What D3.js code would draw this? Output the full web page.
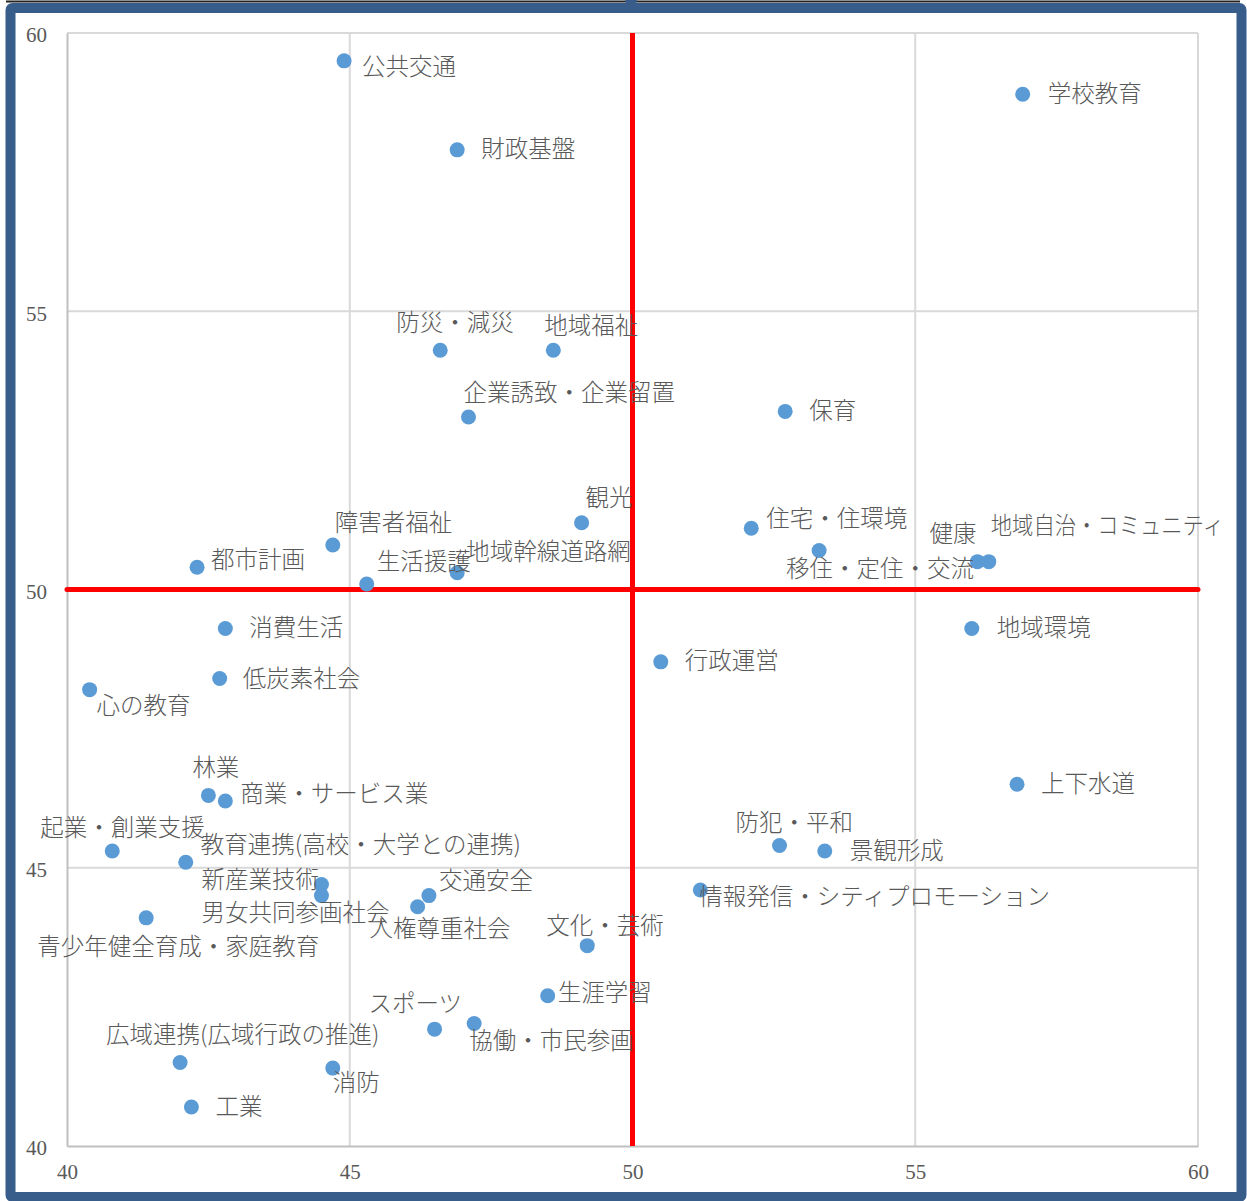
<!DOCTYPE html>
<html>
<head>
<meta charset="utf-8">
<script src="https://cdn.jsdelivr.net/npm/d3@7"></script>
<style>
  body { margin:0; background:#fff; }
  svg text { fill:#595959; }
</style>
</head>
<body>
<div id="chart"></div>
<script>
// item names and their scores (x, y)
const names = ["公共交通","学校教育","財政基盤","防災・減災","地域福祉","企業誘致・企業留置","保育","観光",
  "住宅・住環境","移住・定住・交流","健康","地域自治・コミュニティ","障害者福祉","都市計画","生活援護","地域幹線道路網",
  "消費生活","地域環境","行政運営","低炭素社会","心の教育","上下水道","林業","商業・サービス業",
  "防犯・平和","景観形成","起業・創業支援","教育連携(高校・大学との連携)","新産業技術","男女共同参画社会","交通安全","人権尊重社会",
  "情報発信・シティプロモーション","青少年健全育成・家庭教育","文化・芸術","生涯学習","スポーツ","協働・市民参画","広域連携(広域行政の推進)","消防","工業"];
const xValues = [44.9,56.9,46.9,46.6,48.6,47.1,52.7,49.1,
  52.1,53.3,56.1,56.3,44.7,42.3,45.3,46.9,
  42.8,56.0,50.5,42.7,40.4,56.8,42.5,42.8,
  52.6,53.4,40.8,42.1,44.5,44.5,46.4,46.2,
  51.2,41.4,49.2,48.5,46.5,47.2,42.0,44.7,42.2];
const yValues = [59.5,58.9,57.9,54.3,54.3,53.1,53.2,51.2,
  51.1,50.7,50.5,50.5,50.8,50.4,50.1,50.3,
  49.3,49.3,48.7,48.4,48.2,46.5,46.3,46.2,
  45.4,45.3,45.3,45.1,44.7,44.5,44.5,44.3,
  44.6,44.1,43.6,42.7,42.1,42.2,41.5,41.4,40.7];
const ticks = [40,45,50,55,60];
const midValue = 50;

// label offset from point: [dx to text start, dy to text middle] (px)
const labelOffsets = [[18,6],[25,0],[24,-1],[-44,-27],[-9,-24],[-5,-24],[24,0],[4,-25],
  [15,-9],[-33,18],[-48,-28],[2,-36],[2,-22],[14,-7],[10,-22],[9,-21],
  [24,0],[25,0],[24,-1],[23,0],[7,16],[24,0],[-16,-27],[15,-7],
  [-44,-22],[25,0],[-72,-23],[15,-17],[-120,-4],[-120,17],[10,-15],[-48,22],
  [-1,7],[-109,29],[-41,-20],[10,-3],[-66,-25],[-5,17],[-74,-28],[0,15],[24,0]];

const W = 1247, H = 1201;
const svg = d3.select("#chart").append("svg")
  .attr("width", W).attr("height", H);

const x = d3.scaleLinear().domain([40,60]).range([67,1198]);
const y = d3.scaleLinear().domain([40,60]).range([1146,33]);

// gridlines
svg.append("g").selectAll("line.v").data(ticks.slice(1)).enter().append("line")
  .attr("x1",d=>x(d)).attr("x2",d=>x(d)).attr("y1",y(60)).attr("y2",y(40))
  .attr("stroke","#d9d9d9").attr("stroke-width",2);
svg.append("g").selectAll("line.h").data(ticks.slice(1)).enter().append("line")
  .attr("x1",x(40)).attr("x2",x(60)).attr("y1",d=>y(d)).attr("y2",d=>y(d))
  .attr("stroke","#d9d9d9").attr("stroke-width",2);

// axes
const xAxis = svg.append("g").attr("transform",`translate(0,${y(40)})`)
  .call(d3.axisBottom(x).tickValues(ticks).tickSize(0).tickPadding(18));
const yAxis = svg.append("g").attr("transform",`translate(${x(40)},0)`)
  .call(d3.axisLeft(y).tickValues(ticks).tickSize(0).tickPadding(20));
[xAxis,yAxis].forEach(a => {
  a.select(".domain").attr("stroke","#bfbfbf").attr("stroke-width",2);
  a.selectAll("text").attr("font-family","'Liberation Serif','DejaVu Serif',serif")
    .attr("font-size",21).style("fill","#595959");
});
yAxis.selectAll("text").attr("dy","0.42em");

// quadrant lines
svg.append("line").attr("x1",x(midValue)).attr("x2",x(midValue)).attr("y1",y(60)).attr("y2",y(40))
  .attr("stroke","#ff0000").attr("stroke-width",5);
svg.append("line").attr("x1",x(40)).attr("x2",x(60)).attr("y1",y(midValue)).attr("y2",y(midValue))
  .attr("stroke","#ff0000").attr("stroke-width",5).attr("stroke-linecap","round");

const data = names.map((n,i) => ({name:n, x:xValues[i], y:yValues[i], off:labelOffsets[i]}));

svg.append("g").selectAll("circle").data(data).enter().append("circle")
  .attr("cx",d=>x(d.x)).attr("cy",d=>y(d.y)).attr("r",7.5)
  .attr("fill","#5b9bd5");

const labels = svg.append("g").selectAll("text").data(data).enter().append("text")
  .attr("x",d=>x(d.x)+d.off[0]).attr("y",d=>y(d.y)+d.off[1]-2)
  .attr("dominant-baseline","central")
  .attr("font-family","'Noto Sans CJK JP','Noto Sans',sans-serif")
  .attr("font-size",23.5).attr("font-weight",300)
  .text(d=>d.name);

// katakana runs narrower in the original; squeeze labels that would hit the frame
const rightLimit = 1224;
labels.each(function(d){
  const len = this.getComputedTextLength();
  const x0 = x(d.x)+d.off[0];
  if (x0 + len > rightLimit) {
    d3.select(this).attr("textLength", rightLimit - x0).attr("lengthAdjust","spacingAndGlyphs");
  }
});

// outer frame (on top)
svg.append("rect").attr("x",10.5).attr("y",8).attr("width",1231).attr("height",1189)
  .attr("fill","none").attr("stroke","#385d8a").attr("stroke-width",10).attr("rx",2);
svg.append("line").attr("x1",6).attr("x2",1240).attr("y1",1.5).attr("y2",1.5)
  .attr("stroke","#222").attr("stroke-width",2);
svg.append("ellipse").attr("cx",631).attr("cy",0).attr("rx",6).attr("ry",5).attr("fill","#385d8a");
</script>
</body>
</html>
